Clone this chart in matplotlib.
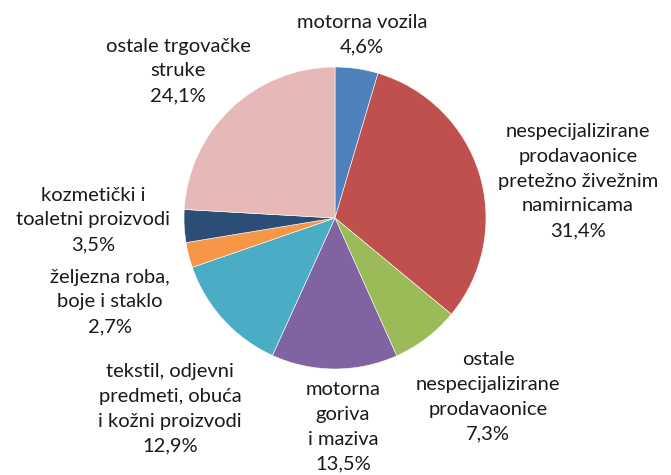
import matplotlib.pyplot as plt

categories = [
    "motorna vozila",
    "nespecijalizirane\nprodavaonice\npretežno živežnim\nnamirnicama",
    "ostale\nnespecijalizirane\nprodavaonice",
    "motorna\ngoriva\ni maziva",
    "tekstil, odjevni\npredmeti, obuća\ni kožni proizvodi",
    "željezna roba,\nboje i staklo",
    "kozmetički i\ntoaletni proizvodi",
    "ostale trgovačke\nstruke",
]
shares = [4.6, 31.4, 7.3, 13.5, 12.9, 2.7, 3.5, 24.1]
colors = ["#4F81BD", "#C0504D", "#9BBB59", "#8064A2",
          "#4BACC6", "#F79646", "#2C4D75", "#E6B9B8"]

# label centres in pixels (from top-left of the figure)
label_px = [(362, 35), (578, 181), (488, 397), (343, 427),
            (170, 409), (110, 302), (93, 220), (178, 71)]

W, H = 671, 475
CX, CY, R = 335, 218, 151


def main():
    fig = plt.figure(figsize=(W / 100, H / 100), dpi=100)
    ax = fig.add_axes([(CX - R) / W, (H - CY - R) / H, 2 * R / W, 2 * R / H])
    ax.pie(shares, colors=colors, startangle=90, counterclock=False,
           radius=1, wedgeprops=dict(edgecolor="white", linewidth=0.4))
    ax.set_xlim(-1, 1)
    ax.set_ylim(-1, 1)
    ax.set_aspect("equal")
    ax.axis("off")

    for name, val, (px, py) in zip(categories, shares, label_px):
        txt = name + "\n" + f"{val:.1f}".replace(".", ",") + "%"
        fig.text(px / W, 1 - py / H, txt, ha="center", va="center",
                 fontsize=14.5, family=["Lato", "DejaVu Sans"],
                 linespacing=1.55, color="#1a1a1a")

    fig.savefig("out.png", dpi=100)


if __name__ == "__main__":
    main()
